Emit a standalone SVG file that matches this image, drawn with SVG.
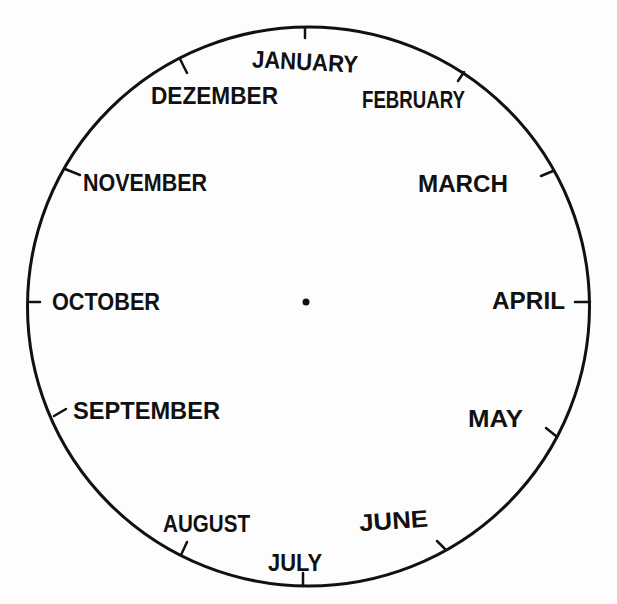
<svg xmlns="http://www.w3.org/2000/svg" width="617" height="604" viewBox="0 0 617 604">
<style>
.lbl{font-family:"Liberation Sans",Arial,sans-serif;font-weight:bold;font-size:24px;fill:#111}
.rim{fill:none;stroke:#111;stroke-width:3}
.tick{stroke:#111;stroke-width:2.5;stroke-linecap:round}
</style>
<rect width="617" height="604" fill="#fdfdfd"/>
<g id="dial">
<ellipse class="rim" cx="308.5" cy="306.5" rx="281" ry="279.5"/>
<circle cx="306" cy="302" r="3.5" fill="#111"/>
</g>
<g id="connectors">
<line class="tick" x1="305" y1="28" x2="305" y2="38"/>
<line class="tick" x1="180" y1="59" x2="187" y2="73"/>
<line class="tick" x1="464" y1="72" x2="458" y2="81"/>
<line class="tick" x1="553" y1="171" x2="541" y2="176"/>
<line class="tick" x1="590" y1="302" x2="575" y2="302"/>
<line class="tick" x1="546" y1="428" x2="556" y2="436"/>
<line class="tick" x1="437" y1="541" x2="446" y2="550"/>
<line class="tick" x1="303" y1="573" x2="303" y2="586"/>
<line class="tick" x1="187" y1="542" x2="181" y2="555"/>
<line class="tick" x1="54" y1="416" x2="66" y2="409"/>
<line class="tick" x1="30" y1="302" x2="40" y2="302"/>
<line class="tick" x1="65" y1="169" x2="80" y2="175"/>
</g>
<g id="january"><text class="lbl" x="252" y="70" textLength="106" lengthAdjust="spacingAndGlyphs" transform="rotate(3 305 62)">JANUARY</text></g>
<g id="dezember"><text class="lbl" x="151" y="104" textLength="127" lengthAdjust="spacingAndGlyphs">DEZEMBER</text></g>
<g id="february"><text class="lbl" x="362" y="108" textLength="103" lengthAdjust="spacingAndGlyphs">FEBRUARY</text></g>
<g id="november"><text class="lbl" x="83" y="191" textLength="124" lengthAdjust="spacingAndGlyphs">NOVEMBER</text></g>
<g id="march"><text class="lbl" x="418" y="192" textLength="90" lengthAdjust="spacingAndGlyphs">MARCH</text></g>
<g id="october"><text class="lbl" x="52" y="310" textLength="108" lengthAdjust="spacingAndGlyphs">OCTOBER</text></g>
<g id="april"><text class="lbl" x="492" y="309" textLength="73" lengthAdjust="spacingAndGlyphs">APRIL</text></g>
<g id="september"><text class="lbl" x="73" y="419" textLength="147" lengthAdjust="spacingAndGlyphs">SEPTEMBER</text></g>
<g id="may"><text class="lbl" x="468" y="427" textLength="55" lengthAdjust="spacingAndGlyphs">MAY</text></g>
<g id="june"><text class="lbl" x="359" y="529" textLength="69" lengthAdjust="spacingAndGlyphs" transform="rotate(-4 393 520)">JUNE</text></g>
<g id="july"><text class="lbl" x="268" y="571" textLength="54" lengthAdjust="spacingAndGlyphs">JULY</text></g>
<g id="august"><text class="lbl" x="163" y="532" textLength="87" lengthAdjust="spacingAndGlyphs">AUGUST</text></g>
</svg>
